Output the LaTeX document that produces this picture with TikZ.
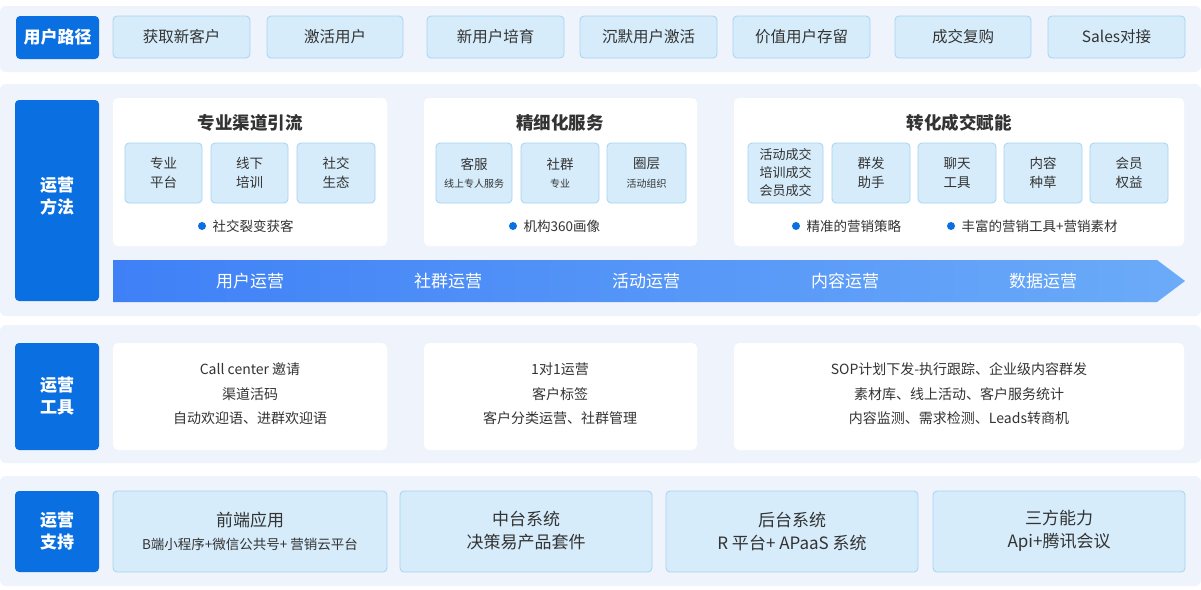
\documentclass[tikz,border=0pt]{standalone}
\usepackage{fontspec}
\setmainfont{Noto Sans CJK SC}
\usetikzlibrary{positioning}
\definecolor{lab}{HTML}{0A6FE0}
\definecolor{lbox}{HTML}{D6ECFA}
\definecolor{lbord}{HTML}{A6D3F3}
\definecolor{band}{HTML}{EFF4FC}
\definecolor{txt}{HTML}{333333}
\definecolor{arL}{HTML}{3F80F7}
\definecolor{arR}{HTML}{6BABF8}
\tikzset{
 x=1pt,y=-1pt,
 bandbg/.style={fill=band,rounded corners=6pt},
 labbox/.style={fill=lab,rounded corners=4pt},
 labtxt/.style={text=white,font=\fontsize{17}{22}\selectfont\bfseries,align=center},
 stepbox/.style={fill=lbox,draw=lbord,line width=0.8pt,rounded corners=4pt},
 panel/.style={fill=white,rounded corners=5pt},
 t16/.style={text=txt,font=\fontsize{15.5}{20}\selectfont,align=center},
 t13/.style={text=txt,font=\fontsize{13.5}{19}\selectfont,align=center},
 t14/.style={text=txt,font=\fontsize{14}{24.5}\selectfont,align=center},
 t10/.style={text=txt,font=\fontsize{10}{12}\selectfont,align=center},
 ttl/.style={text=txt,font=\fontsize{17.5}{22}\selectfont\bfseries},
 bul/.style={text=txt,font=\fontsize{13.5}{16}\selectfont},
 dotc/.style={fill=lab,draw=none},
 artxt/.style={text=white,font=\fontsize{17}{22}\selectfont},
 sup/.style={text=txt,font=\fontsize{17}{23}\selectfont,align=center},
 supsm/.style={font=\fontsize{13.5}{23}\selectfont},
}
\begin{document}
\begin{tikzpicture}
\fill[white] (0,0) rectangle (1201,589);
% bands
\fill[bandbg] (0,6) rectangle (1201,72);
\fill[bandbg] (0,84) rectangle (1201,316);
\fill[bandbg] (0,325) rectangle (1201,463);
\fill[bandbg] (0,476) rectangle (1201,586);
% labels
\fill[labbox] (16,16) rectangle (99,59); \node[labtxt] (l1) at (57.5,37.5) {用户路径};
\fill[labbox] (15,100) rectangle (99,301); \node[labtxt] (l2) at (57,196) {运营\\方法};
\fill[labbox] (15,343) rectangle (99,450); \node[labtxt] (l3) at (57,396) {运营\\工具};
\fill[labbox] (15,491) rectangle (99,572); \node[labtxt] (l4) at (57,531) {运营\\支持};
% row1
\foreach \a/\b/\t [count=\i] in {113/250/获取新客户,267/403/激活用户,427/564/新用户培育,580/717/沉默用户激活,733/870/价值用户存留,895/1031/成交复购,1048/1185/Sales对接}{
 \draw[stepbox] (\a,16) rectangle (\b,58);
 \node[t16] (s\i) at ({(\a+\b)/2},37) {\t};
}
% row2 panels
\fill[panel] (113,98) rectangle (387,246);
\fill[panel] (424,98) rectangle (697,246);
\fill[panel] (734,98) rectangle (1184,246);
\node[ttl] (p1) at (250,123) {专业渠道引流};
\node[ttl] (p2) at (560,123) {精细化服务};
\node[ttl] (p3) at (959,123) {转化成交赋能};
\foreach \a/\b/\t [count=\i] in {125/202/专业\\平台,211/288/线下\\培训,297/375/社交\\生态,748/823/,832/910/群发\\助手,918/996/聊天\\工具,1004/1082/内容\\种草,1090/1168/会员\\权益}{
 \draw[stepbox] (\a,143) rectangle (\b,203);
 \node[t13] (m\i) at ({(\a+\b)/2},173) {\t};
}
\node[t13,font=\fontsize{13}{18}\selectfont] (m4b) at (785.5,173) {活动成交\\培训成交\\会员成交};
\foreach \a/\b/\t/\u [count=\i] in {436/512/客服/线上专人服务,521/599/社群/专业/长期群,607/686/圈层/活动组织}{
 \draw[stepbox] (\a,143) rectangle (\b,203);
 \node[t13] (n\i) at ({(\a+\b)/2},164) {\t};
 \node[t10] (nn\i) at ({(\a+\b)/2},184) {\u};
}
\fill[dotc] (202,226) circle (4);
\node[bul,anchor=west] (b1) at (209,226) {社交裂变获客};
\fill[dotc] (513,226) circle (4);
\node[bul,anchor=west] (b2) at (520,226) {机构360画像};
\fill[dotc] (796,226) circle (4);
\node[bul,anchor=west] (b3) at (803,226) {精准的营销策略};
\fill[dotc] (951,226) circle (4);
\node[bul,anchor=west] (b4) at (958,226) {丰富的营销工具+营销素材};
% arrow
\shade[left color=arL,right color=arR] (113,260) -- (1157,260) -- (1185,281) -- (1157,302) -- (113,302) -- cycle;
\foreach \x/\t [count=\i] in {250/用户运营,448/社群运营,646/活动运营,845/内容运营,1043/数据运营}{
 \node[artxt] (a\i) at (\x,281) {\t};
}
% row3
\fill[panel] (113,343) rectangle (387,450);
\fill[panel] (424,343) rectangle (697,450);
\fill[panel] (734,343) rectangle (1184,450);
\node[t14] (r1) at (250,394) {Call center 邀请\\渠道活码\\自动欢迎语、进群欢迎语};
\node[t14] (r2) at (560,394) {1对1运营\\客户标签\\客户分类运营、社群管理};
\node[t14] (r3) at (959,394) {SOP计划下发-执行跟踪、企业级内容群发\\素材库、线上活动、客户服务统计\\内容监测、需求检测、Leads转商机};
% row4
\foreach \a/\b in {113/387,400/652,666/918,933/1185}{
 \draw[stepbox] (\a,491) rectangle (\b,572);
}
\node[sup] (u1) at (250,531) {前端应用\\{\fontsize{13.5}{23}\selectfont B端小程序+微信公共号+ 营销云平台}};
\node[sup] (u2) at (526,531) {中台系统\\决策易产品套件};
\node[sup] (u3) at (792,531) {后台系统\\R 平台+ APaaS 系统};
\node[sup] (u4) at (1059,531) {三方能力\\Api+腾讯会议};
\end{tikzpicture}
\end{document}
